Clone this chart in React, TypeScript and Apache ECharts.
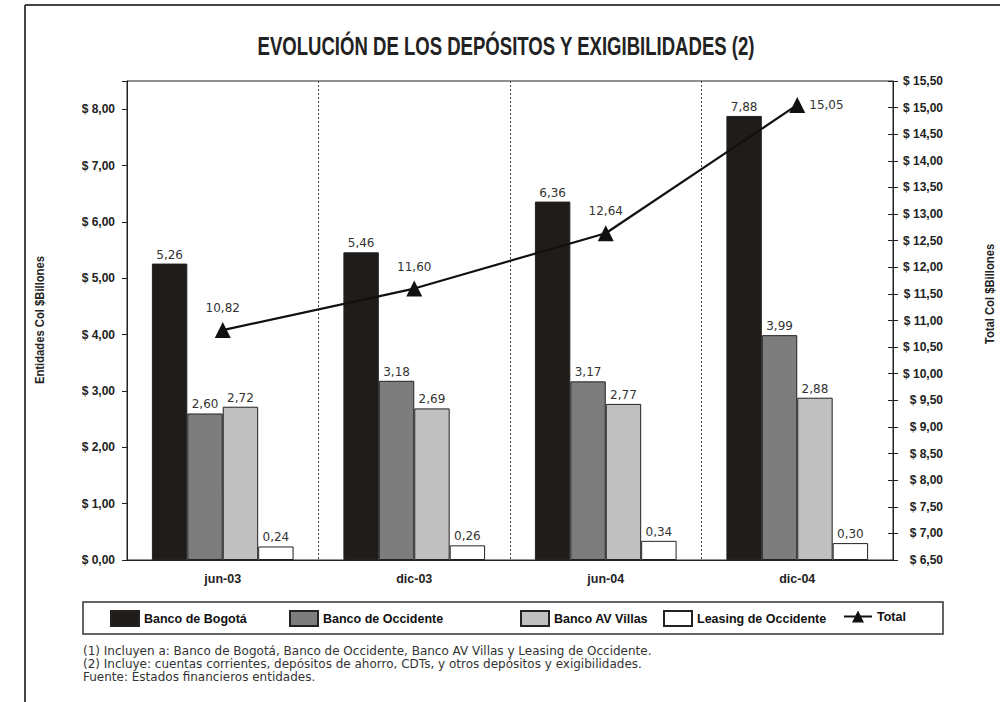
import React, { useEffect, useRef } from "react";
import * as echarts from "echarts";

const categories = ["jun-03", "dic-03", "jun-04", "dic-04"];
const bancoBogota = [5.26, 5.46, 6.36, 7.88];
const bancoOccidente = [2.6, 3.18, 3.17, 3.99];
const bancoAVVillas = [2.72, 2.69, 2.77, 2.88];
const leasingOccidente = [0.24, 0.26, 0.34, 0.3];
const total = [10.82, 11.6, 12.64, 15.05];

const seriesNames = ["Banco de Bogotá", "Banco de Occidente", "Banco AV Villas", "Leasing de Occidente", "Total"];
const titleText = "EVOLUCIÓN DE LOS DEPÓSITOS Y EXIGIBILIDADES (2)";
const leftAxisName = "Entidades Col $Billones";
const rightAxisName = "Total Col $Billones";
const footnotes = [
  "(1) Incluyen a: Banco de Bogotá, Banco de Occidente, Banco AV Villas y Leasing de Occidente.",
  "(2) Incluye: cuentas corrientes, depósitos de ahorro, CDTs, y otros depósitos y exigibilidades.",
  "Fuente: Estados financieros entidades.",
];

const NARROW = "'Liberation Sans', Arial, sans-serif";
const GOTHIC = "'DejaVu Sans', 'Noto Sans', sans-serif";
const legendLefts = [110, 289, 520, 663, 843];

const fmt = (v: number) => v.toFixed(2).replace(".", ",");

export default function App() {
  const ref = useRef<HTMLDivElement>(null);
  useEffect(() => {
    document.body.style.margin = "0";
    if (!ref.current) return;
    const chart = echarts.init(ref.current, null, { renderer: "svg" });
    const barLabel = {
      show: true,
      position: "top" as const,
      distance: 3,
      color: "#333",
      fontSize: 12,
      fontFamily: GOTHIC,
      formatter: (p: any) => fmt(p.value),
    };
    const barSeries = (name: string, data: number[], color: string) => ({
      name,
      type: "bar",
      data,
      barGap: "0%",
      barCategoryGap: "26%",
      itemStyle: { color, borderColor: "#222", borderWidth: 1 },
      label: barLabel,
    });
    chart.setOption({
      animation: false,
      backgroundColor: "#fff",
      grid: {
        left: 127,
        right: 107,
        top: 81,
        bottom: 142,
        show: true,
        borderColor: "#222",
        borderWidth: 1,
      },
      legend: seriesNames.map((n, i) => ({
        left: legendLefts[i],
        top: 610,
        padding: 0,
        itemWidth: 28,
        itemHeight: 15,
        itemGap: 5,
        icon: i < 4 ? "rect" : undefined,
        textStyle: { fontFamily: NARROW, fontWeight: "bold", fontSize: 12.5, color: "#111" },
        data: [{ name: n }],
      })),
      xAxis: {
        type: "category",
        data: categories,
        axisLine: { lineStyle: { color: "#222", width: 1 } },
        axisTick: { show: false },
        axisLabel: {
          margin: 12,
          fontFamily: NARROW,
          fontWeight: "bold",
          fontSize: 12.5,
          color: "#222",
        },
        splitLine: { show: true, lineStyle: { color: "#444", type: [2, 2], width: 1 } },
      },
      yAxis: [
        {
          type: "value",
          min: 0,
          max: 8.5,
          interval: 1,
          position: "left",
          axisLine: { show: true, lineStyle: { color: "#222", width: 1 } },
          axisTick: { show: true, length: 5, lineStyle: { color: "#222" } },
          splitLine: { show: false },
          axisLabel: {
            margin: 12,
            fontFamily: NARROW,
            fontWeight: "bold",
            fontSize: 12,
            color: "#222",
            formatter: (v: number) => (v > 8.01 ? "" : "$ " + fmt(v)),
          },
        },
        {
          type: "value",
          min: 6.5,
          max: 15.5,
          interval: 0.5,
          position: "right",
          axisLine: { show: true, lineStyle: { color: "#222", width: 1 } },
          axisTick: { show: true, length: 5, lineStyle: { color: "#222" } },
          splitLine: { show: false },
          axisLabel: {
            margin: 50,
            align: "right",
            fontFamily: NARROW,
            fontWeight: "bold",
            fontSize: 12,
            color: "#222",
            formatter: (v: number) => "$ " + fmt(v),
          },
        },
        {
          type: "value",
          min: 6.5,
          max: 15.5,
          interval: 0.5,
          position: "right",
          axisLine: { show: false },
          axisTick: { show: true, inside: true, length: 5, lineStyle: { color: "#222" } },
          splitLine: { show: false },
          axisLabel: { show: false },
        },
      ],
      series: [
        barSeries(seriesNames[0], bancoBogota, "#201c1a"),
        barSeries(seriesNames[1], bancoOccidente, "#7d7d7d"),
        barSeries(seriesNames[2], bancoAVVillas, "#c0c0c0"),
        barSeries(seriesNames[3], leasingOccidente, "#ffffff"),
        {
          name: seriesNames[4],
          type: "line",
          yAxisIndex: 1,
          z: 5,
          data: total.map((v, i) =>
            i === total.length - 1 ? { value: v, label: { position: "right", distance: 4 } } : { value: v }
          ),
          symbol: "triangle",
          symbolSize: 16,
          itemStyle: { color: "#111" },
          lineStyle: { color: "#111", width: 2.2 },
          label: {
            show: true,
            position: "top",
            distance: 8,
            color: "#333",
            fontSize: 12,
            fontFamily: GOTHIC,
            formatter: (p: any) => fmt(p.value),
          },
        },
      ],
      graphic: [
        {
          type: "line",
          shape: { x1: 25, y1: 5, x2: 1000, y2: 5 },
          style: { stroke: "#444", lineWidth: 2 },
        },
        {
          type: "line",
          shape: { x1: 25, y1: 5, x2: 25, y2: 702 },
          style: { stroke: "#444", lineWidth: 2 },
        },
        {
          type: "rect",
          shape: { x: 83, y: 602, width: 860, height: 32 },
          style: { stroke: "#333", lineWidth: 1.5, fill: "none" },
        },
        {
          type: "text",
          x: 506,
          y: 46,
          scaleX: 0.714,
          style: {
            text: titleText,
            fontFamily: NARROW,
            fontWeight: "bold",
            fontSize: 26,
            fill: "#222",
            textAlign: "center",
            textVerticalAlign: "middle",
          },
        },
        {
          type: "text",
          x: 40,
          y: 320,
          rotation: Math.PI / 2,
          scaleX: 0.9,
          style: {
            text: leftAxisName,
            fontFamily: NARROW,
            fontWeight: "bold",
            fontSize: 12.5,
            fill: "#222",
            textAlign: "center",
            textVerticalAlign: "middle",
          },
        },
        {
          type: "text",
          x: 990,
          y: 294,
          rotation: Math.PI / 2,
          scaleX: 0.9,
          style: {
            text: rightAxisName,
            fontFamily: NARROW,
            fontWeight: "bold",
            fontSize: 12.5,
            fill: "#222",
            textAlign: "center",
            textVerticalAlign: "middle",
          },
        },
        ...footnotes.map((t, i) => ({
          type: "text",
          x: 83,
          y: 651 + i * 13,
          style: {
            text: t,
            fontFamily: GOTHIC,
            fontSize: 12,
            fill: "#333",
            textAlign: "left",
            textVerticalAlign: "middle",
          },
        })),
      ],
    });
    return () => chart.dispose();
  }, []);
  return <div ref={ref} style={{ width: 1000, height: 702 }} />;
}
